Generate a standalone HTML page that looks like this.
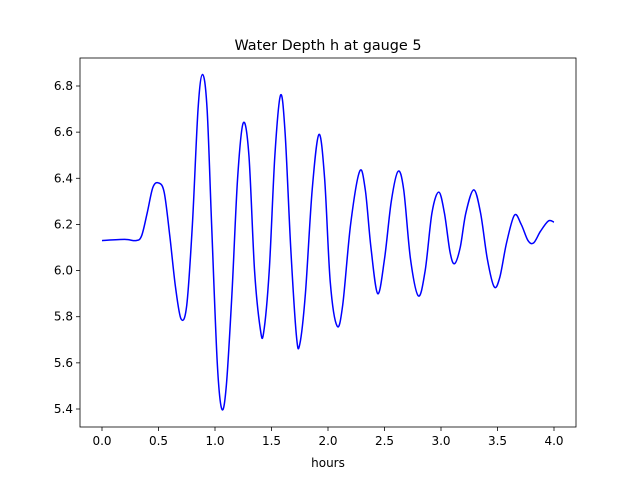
<!DOCTYPE html>
<html><head><meta charset="utf-8"><style>
body{margin:0;background:#fff;}
svg text{font-family:"DejaVu Sans","Liberation Sans",sans-serif;fill:#000;}
</style></head><body>
<svg id="chart" width="640" height="480" xmlns="http://www.w3.org/2000/svg">
<rect width="640" height="480" fill="#fff"/>
<text x="328" y="50" font-size="14.4" text-anchor="middle">Water Depth h at gauge 5</text>
<g id="axes"></g>
<text x="328" y="467" font-size="12" text-anchor="middle">hours</text>
</svg>
<script>
const times=[0.0,0.2,0.3,0.35,0.4,0.45,0.5,0.55,0.6,0.65,0.7,0.75,0.8,0.85,0.89,0.93,0.97,1.02,1.06,1.1,1.15,1.2,1.25,1.3,1.35,1.4,1.43,1.48,1.53,1.58,1.62,1.67,1.72,1.75,1.8,1.86,1.92,1.97,2.02,2.08,2.13,2.2,2.28,2.33,2.38,2.44,2.5,2.56,2.62,2.67,2.73,2.8,2.86,2.92,2.98,3.03,3.08,3.12,3.17,3.22,3.29,3.35,3.41,3.47,3.52,3.58,3.65,3.71,3.77,3.82,3.88,3.95,4.0];
const depth=[6.13,6.135,6.13,6.15,6.25,6.36,6.38,6.34,6.15,5.93,5.79,5.85,6.2,6.7,6.85,6.7,6.2,5.6,5.40,5.5,5.9,6.4,6.64,6.5,6.0,5.75,5.73,6.0,6.5,6.76,6.6,6.1,5.72,5.68,5.9,6.35,6.59,6.4,5.95,5.76,5.85,6.2,6.43,6.35,6.1,5.9,6.05,6.3,6.43,6.35,6.05,5.89,6.0,6.25,6.34,6.25,6.08,6.03,6.1,6.25,6.35,6.25,6.05,5.93,5.97,6.12,6.24,6.2,6.13,6.12,6.17,6.215,6.21];
const xTicks=[0.0,0.5,1.0,1.5,2.0,2.5,3.0,3.5,4.0];
const yTicks=[5.4,5.6,5.8,6.0,6.2,6.4,6.6,6.8];
const NS="http://www.w3.org/2000/svg";
const L=80,R=576,T=58,B=427;
const sx=t=>102+(t-0)*(554-102)/4;
const sy=v=>86+(6.8-v)*(409-86)/1.4;
const g=document.getElementById('axes');
function mk(tag,attrs){const e=document.createElementNS(NS,tag);for(const k in attrs)e.setAttribute(k,attrs[k]);g.appendChild(e);return e;}
xTicks.forEach(t=>{
  const l=mk('line',{x1:sx(t),x2:sx(t),y1:B,y2:B+4,stroke:'#000','stroke-width':0.8});
  
  
  const tx=mk('text',{x:sx(t),y:B+18,'font-size':12,'text-anchor':'middle'});
  tx.textContent=t.toFixed(1);
  
  
});
yTicks.forEach(v=>{
  const l=mk('line',{x1:L-4,x2:L,y1:sy(v),y2:sy(v),stroke:'#000','stroke-width':0.8});
  
  
  const tx=mk('text',{x:L-7,y:sy(v)+4,'font-size':12,'text-anchor':'end'});
  tx.textContent=v.toFixed(1);
  
  
});
const pts=times.map((t,i)=>[sx(t),sy(depth[i])]);
let d='M'+pts[0][0]+','+pts[0][1];
for(let i=0;i<pts.length-1;i++){
  const p0=pts[Math.max(i-1,0)],p1=pts[i],p2=pts[i+1],p3=pts[Math.min(i+2,pts.length-1)];
  const c1=[p1[0]+(p2[0]-p0[0])/6,p1[1]+(p2[1]-p0[1])/6];
  const c2=[p2[0]-(p3[0]-p1[0])/6,p2[1]-(p3[1]-p1[1])/6];
  d+=' C'+c1+' '+c2+' '+p2;
}
const line=mk('path',{d:d,fill:'none',stroke:'#0000ff','stroke-width':1.5});


const fr=mk('rect',{x:L,y:T,width:R-L,height:B-T,fill:'none',stroke:'#000','stroke-width':0.8});


</script>
</body></html>
